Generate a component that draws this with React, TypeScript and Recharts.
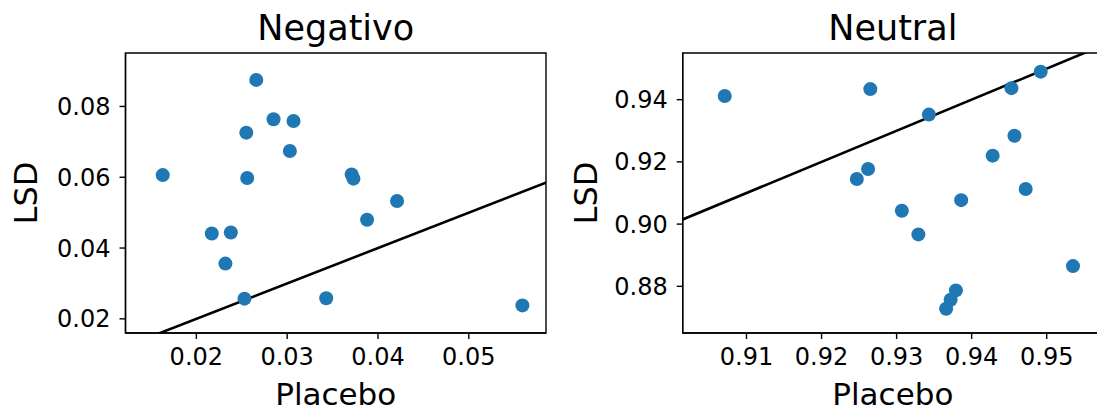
import React from 'react';
import { ScatterChart, Scatter, XAxis, YAxis, ReferenceLine, ReferenceArea } from 'recharts';

// Negativo panel
const negPlacebo = [0.0163, 0.0266, 0.0255, 0.0285, 0.0307, 0.0303, 0.0256, 0.0371, 0.0373, 0.0421, 0.0388, 0.0217, 0.0238, 0.0232, 0.0253, 0.0343, 0.0559];
const negLSD = [0.0606, 0.0875, 0.0726, 0.0764, 0.0759, 0.0674, 0.0598, 0.0608, 0.0596, 0.0533, 0.0480, 0.0441, 0.0444, 0.0356, 0.0257, 0.0258, 0.0238];

// Neutral panel
const neuPlacebo = [0.9071, 0.9265, 0.9343, 0.9453, 0.9492, 0.9457, 0.9428, 0.9262, 0.9247, 0.9472, 0.9386, 0.9307, 0.9329, 0.9535, 0.9379, 0.9372, 0.9366];
const neuLSD = [0.9412, 0.9434, 0.9352, 0.9437, 0.9490, 0.9284, 0.9220, 0.9177, 0.9145, 0.9113, 0.9077, 0.9043, 0.8967, 0.8865, 0.8787, 0.8757, 0.8728];

const negXTicks = [0.02, 0.03, 0.04, 0.05];
const negYTicks = [0.02, 0.04, 0.06, 0.08];
const neuXTicks = [0.91, 0.92, 0.93, 0.94, 0.95];
const neuYTicks = [0.88, 0.9, 0.92, 0.94];

const FONT = '"DejaVu Sans", sans-serif';
const tickStyle = { fill: '#000', fontSize: 24, fontFamily: FONT };
const axisLine = { stroke: '#000', strokeWidth: 1.4 };

type PanelProps = {
    title: string;
    xs: number[];
    ys: number[];
    xDomain: [number, number];
    yDomain: [number, number];
    xTicks: number[];
    yTicks: number[];
    width: number;
    yAxisWidth: number;
    marginRight: number;
};

const Panel: React.FC<PanelProps> = ({ title, xs, ys, xDomain, yDomain, xTicks, yTicks, width, yAxisWidth, marginRight }) => {
    const data = xs.map((x, i) => ({ x, y: ys[i] }));
    const lo = Math.min(xDomain[0], yDomain[0]);
    const hi = Math.max(xDomain[1], yDomain[1]);
    return (
        <ScatterChart width={width} height={412} margin={{ top: 53, right: marginRight, bottom: 0, left: 0 }}>
            <XAxis
                dataKey="x"
                type="number"
                domain={xDomain}
                ticks={xTicks}
                allowDataOverflow
                tickFormatter={(v) => v.toFixed(2)}
                tick={tickStyle}
                axisLine={axisLine}
                tickLine={axisLine}
                tickSize={6}
                tickMargin={9}
                height={79}
                label={{ value: 'Placebo', position: 'insideBottom', offset: 7, fill: '#000', fontSize: 31, fontFamily: FONT }}
            />
            <YAxis
                dataKey="y"
                type="number"
                domain={yDomain}
                ticks={yTicks}
                allowDataOverflow
                tickFormatter={(v) => v.toFixed(2)}
                tick={tickStyle}
                axisLine={axisLine}
                tickLine={axisLine}
                tickSize={6}
                tickMargin={9}
                width={yAxisWidth}
                label={{ value: 'LSD', angle: -90, position: 'insideLeft', offset: 26, fill: '#000', fontSize: 32, fontFamily: FONT, style: { textAnchor: 'middle' } }}
            />
            {/* frame around the plot area, with the panel title above it */}
            <ReferenceArea
                x1={xDomain[0]}
                x2={xDomain[1]}
                y1={yDomain[0]}
                y2={yDomain[1]}
                fill="none"
                fillOpacity={0}
                stroke="#000"
                strokeWidth={1.4}
                ifOverflow="extendDomain"
                label={{ value: title, position: 'top', offset: 13, fill: '#000', fontSize: 35, fontFamily: FONT }}
            />
            <ReferenceLine
                segment={[{ x: lo, y: lo }, { x: hi, y: hi }]}
                stroke="#000"
                strokeWidth={2.6}
                ifOverflow="hidden"
            />
            <Scatter
                data={data}
                isAnimationActive={false}
                shape={(p: any) => <circle cx={p.cx} cy={p.cy} r={7} fill="#1f77b4" />}
            />
        </ScatterChart>
    );
};

export default function App() {
    return (
        <div style={{ position: 'fixed', left: 0, top: 0, width: 1097, height: 412, overflow: 'hidden', background: '#fff' }}>
            <div style={{ position: 'absolute', left: 0, top: 0 }}>
                <Panel
                    title="Negativo"
                    xs={negPlacebo}
                    ys={negLSD}
                    xDomain={[0.0122, 0.0585]}
                    yDomain={[0.016, 0.0951]}
                    xTicks={negXTicks}
                    yTicks={negYTicks}
                    width={560}
                    yAxisWidth={125.5}
                    marginRight={14}
                />
            </div>
            <div style={{ position: 'absolute', left: 560, top: 0 }}>
                <Panel
                    title="Neutral"
                    xs={neuPlacebo}
                    ys={neuLSD}
                    xDomain={[0.9015, 0.9575]}
                    yDomain={[0.865, 0.955]}
                    xTicks={neuXTicks}
                    yTicks={neuYTicks}
                    width={550}
                    yAxisWidth={122.7}
                    marginRight={7}
                />
            </div>
        </div>
    );
}
